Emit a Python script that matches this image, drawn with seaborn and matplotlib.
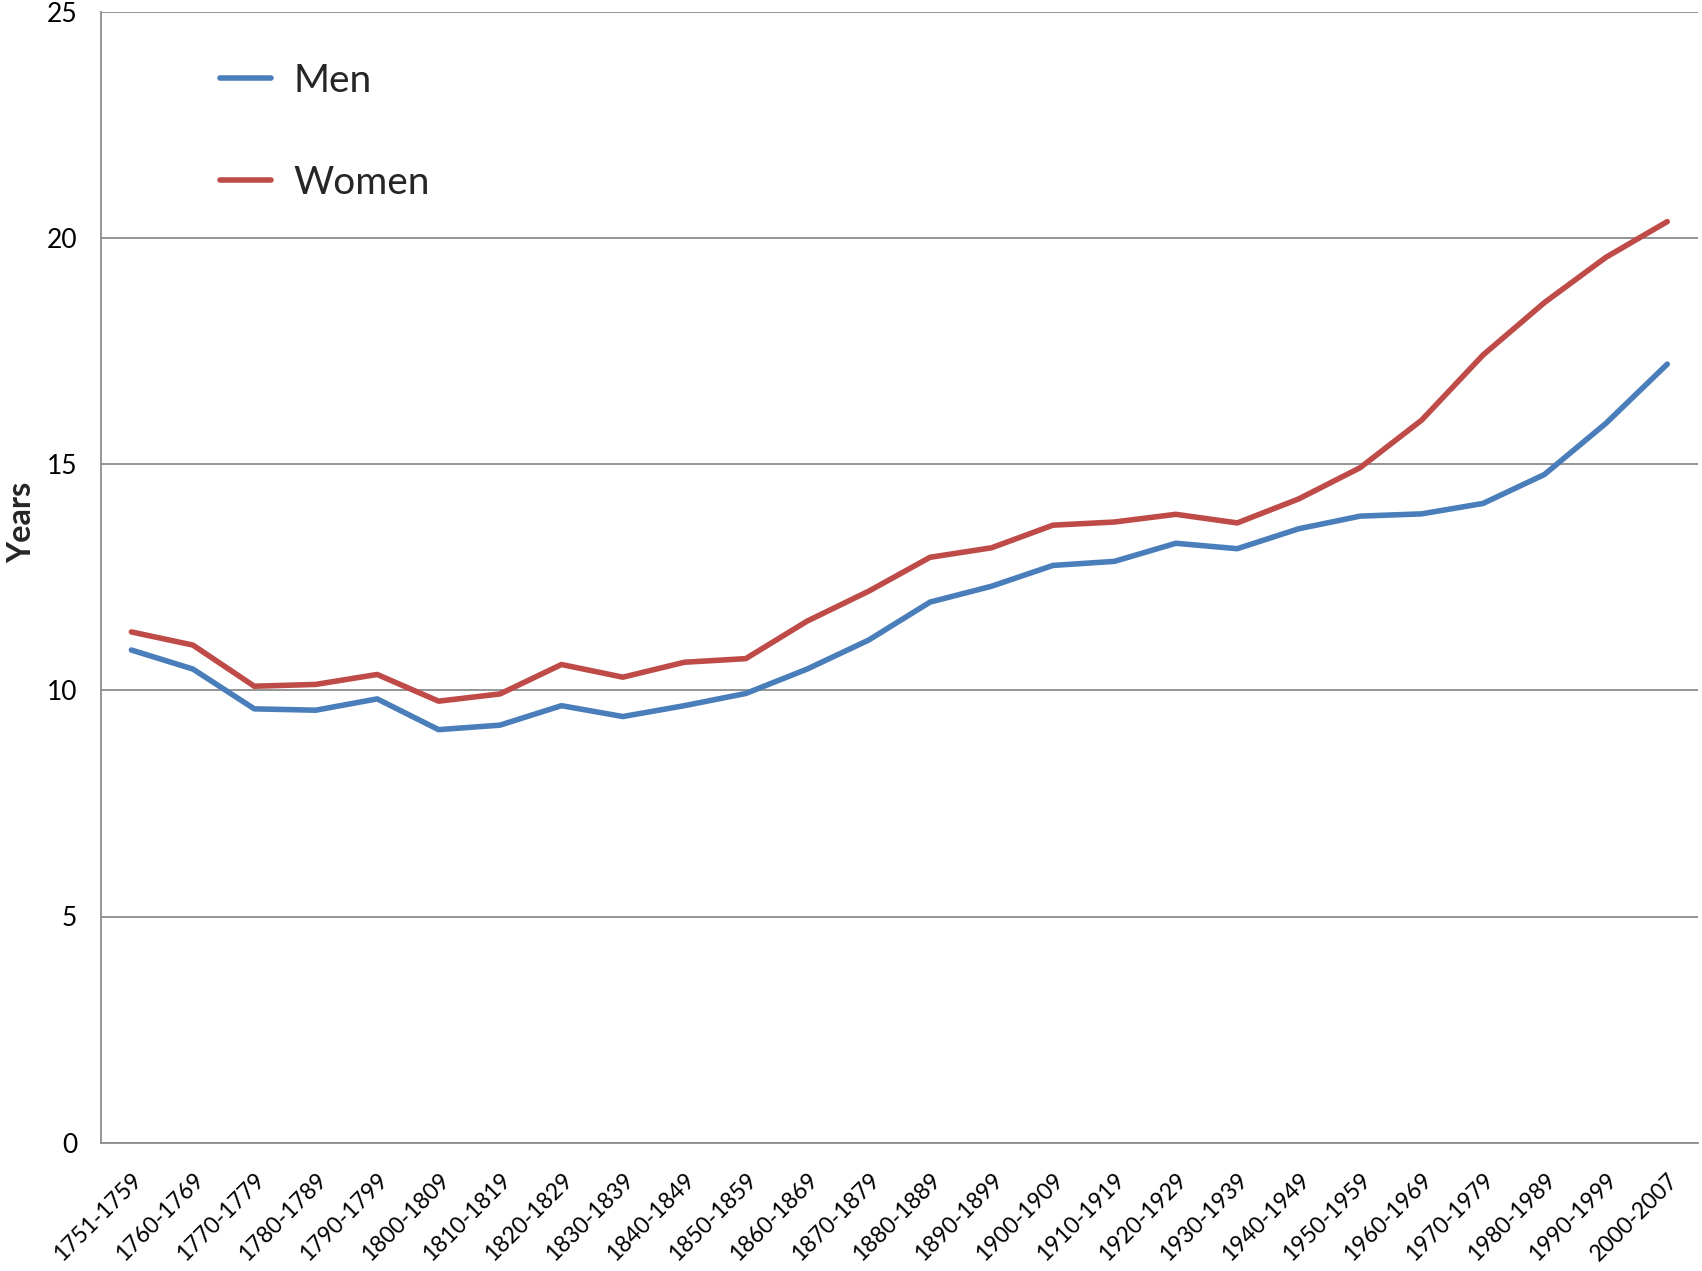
import matplotlib
matplotlib.use("Agg")
import matplotlib.pyplot as plt
import seaborn as sns
import pandas as pd
import numpy as np
from matplotlib.ticker import FixedLocator

periods = ["1751-1759", "1760-1769", "1770-1779", "1780-1789", "1790-1799",
           "1800-1809", "1810-1819", "1820-1829", "1830-1839", "1840-1849",
           "1850-1859", "1860-1869", "1870-1879", "1880-1889", "1890-1899",
           "1900-1909", "1910-1919", "1920-1929", "1930-1939", "1940-1949",
           "1950-1959", "1960-1969", "1970-1979", "1980-1989", "1990-1999",
           "2000-2007"]
men = [10.89, 10.47, 9.59, 9.56, 9.81, 9.13, 9.23, 9.66, 9.42, 9.66,
       9.93, 10.47, 11.11, 11.95, 12.30, 12.76, 12.85, 13.25, 13.13, 13.57,
       13.85, 13.90, 14.13, 14.77, 15.90, 17.21]
women = [11.29, 11.00, 10.09, 10.13, 10.35, 9.76, 9.92, 10.57, 10.29, 10.62,
         10.70, 11.53, 12.19, 12.94, 13.15, 13.65, 13.72, 13.89, 13.70, 14.23,
         14.92, 15.97, 17.41, 18.57, 19.57, 20.36]
series_names = ["Men", "Women"]
colors = ["#4A7EBB", "#BE4B48"]
yticks = [0, 5, 10, 15, 20, 25]

sns.set_theme(style="white")
plt.rcParams["font.family"] = ["Lato", "DejaVu Sans"]

df = pd.DataFrame({
    "Period": periods * 2,
    "Years": men + women,
    "Sex": [series_names[0]] * len(periods) + [series_names[1]] * len(periods),
})

W, H = 1702, 1271
fig = plt.figure(figsize=(W / 100, H / 100), dpi=100)
ax = fig.add_axes([100.7 / W, 1 - 1142.7 / H, (1698 - 100.7) / W, (1142.7 - 11.7) / H])

sns.lineplot(data=df, x="Period", y="Years", hue="Sex", palette=colors,
             linewidth=4.0, ax=ax, legend=False, sort=False)
for ln in ax.get_lines():
    ln.set_solid_capstyle("round")
    ln.set_solid_joinstyle("round")

n = len(periods)
ax.set_xlim(-0.5, n - 0.5)
ax.set_ylim(0, 25)
ax.set_yticks(yticks)
ax.set_yticklabels([str(v) for v in yticks], fontsize=19)
ax.yaxis.grid(True, color="#8C8C8C", linewidth=1.3)
ax.set_axisbelow(True)

ax.set_xticks(range(n))
ax.set_xticklabels(periods, rotation=45, ha="right", rotation_mode="anchor", fontsize=16.5)
ax.xaxis.set_minor_locator(FixedLocator(np.arange(-0.5, n, 1.0)))
ax.tick_params(axis="x", which="major", length=0, pad=19)
ax.tick_params(axis="x", which="minor", length=6.5, width=1.3, color="#8C8C8C", direction="out")
ax.tick_params(axis="y", which="major", length=6, width=1.3, color="#8C8C8C", direction="out", pad=11)
ax.tick_params(axis="both", labelcolor="black")

for s in ["top", "right"]:
    ax.spines[s].set_visible(False)
for s in ["left", "bottom"]:
    ax.spines[s].set_color("#8C8C8C")
    ax.spines[s].set_linewidth(1.3)

ax.set_xlabel("")
ax.set_ylabel("")
fig.text(22 / W, 1 - 522 / H, "Years", rotation=90, fontsize=23.5, fontweight="bold",
         ha="center", va="center")

handles = [plt.Line2D([], [], color=c, linewidth=4.0, solid_capstyle="round") for c in colors]
leg = ax.legend(handles, series_names, loc="upper left",
                bbox_to_anchor=(220 / W, 1 - 63 / H), bbox_transform=fig.transFigure,
                frameon=False, fontsize=28, handlelength=1.3, handletextpad=0.6,
                labelspacing=1.7, borderpad=0, borderaxespad=0)

fig.savefig("out.png", dpi=100, facecolor="white")
